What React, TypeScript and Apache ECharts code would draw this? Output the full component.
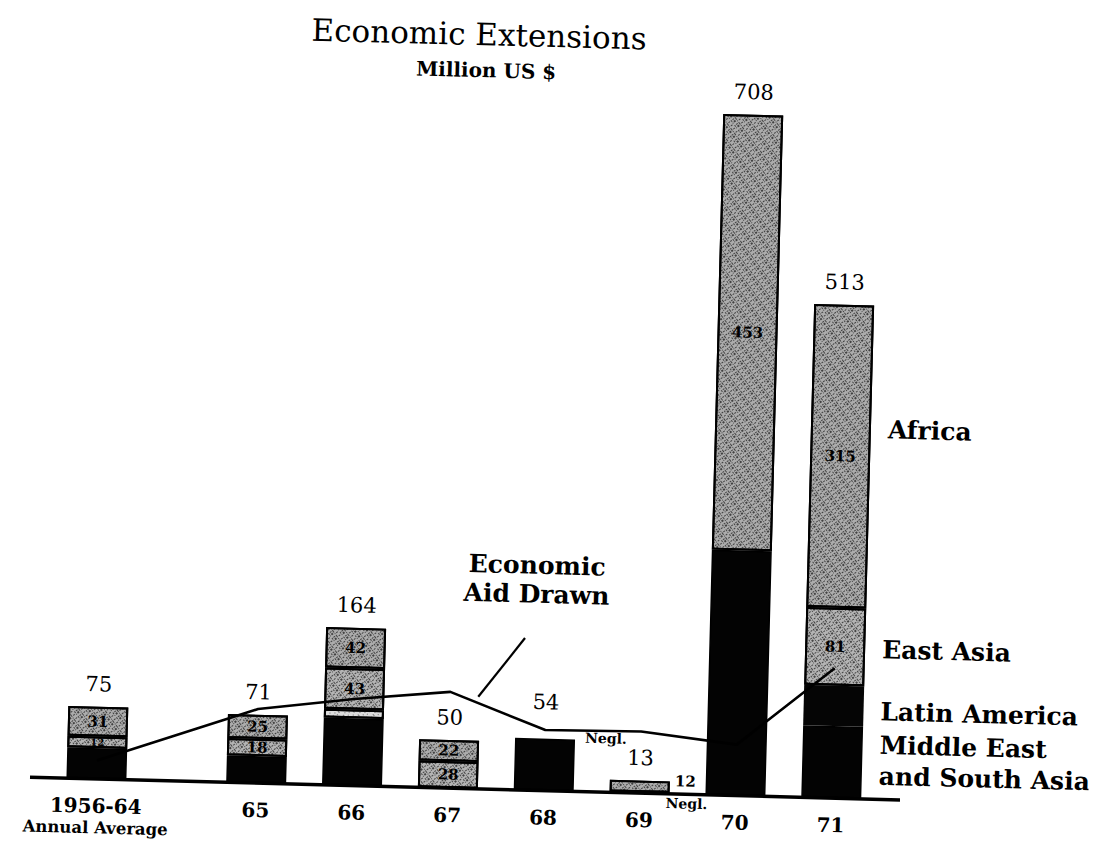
import React, { useEffect, useRef } from "react";
import * as echarts from "echarts";

// ---------- data ----------
const categories = ["1956-64", "65", "66", "67", "68", "69", "70", "71"];
const firstCategoryNote = "Annual Average";
const totals = [75, 71, 164, 50, 54, 13, 708, 513];
const africa = [31, 25, 42, 22, 0, 12, 453, 315];
const eastAsia = [12, 18, 43, 28, 0, 0, 0, 81];
const unlabeledStrip = [0, 0, 9, 0, 0, 0, 0, 0];
const latinAmerica = [0, 0, 0, 0, 0, 0, 0, 42];
const middleEastSouthAsia = [32, 28, 70, 0, 54, 1, 255, 75];
const aidDrawn = [19, 77, 90, 100, 63, 64, 53, 135];
const negligibleNotes = ["", "", "", "", "Negl.", "Negl.", "", ""];
const regionLabels = ["Africa", "East Asia", "Latin America", "Middle East\nand South Asia"];
const titleText = "Economic Extensions";
const subtitleText = "Million US $";
const aidLabel = "Economic\nAid Drawn";

// ---------- layout ----------
const FONT = "'DejaVu Serif', 'Liberation Serif', serif";
const LEAD = 1;
const FIRST_GAP = 5;
const GAP = 3;
const TRAIL = 1;
const slotOf = (i: number) => LEAD + (i === 0 ? 0 : FIRST_GAP + (i - 1) * GAP);
const nSlots = slotOf(categories.length - 1) + 1 + TRAIL;
const slotNames = Array.from({ length: nSlots }, (_, s) => {
  const i = categories.findIndex((_, k) => slotOf(k) === s);
  return i >= 0 ? categories[i] : `gap${s}`;
});
const toSlots = (arr: any[]) => {
  const out: any[] = Array(nSlots).fill(null);
  arr.forEach((v, i) => {
    out[slotOf(i)] = v === 0 ? null : v;
  });
  return out;
};

const BASE_Y = 790.6;
const PX_PER_UNIT = 0.962;
const Y_MAX = 800;
const CH_H = 880;
const GRID_LEFT = 58;
const SLOT_W = 31.96;
const BAR_W = 60;

const stipple = {
  symbol: "rect",
  symbolSize: 1,
  color: "rgba(0,0,0,0.62)",
  dashArrayX: [[2, 1, 1, 2], [1, 3], [3, 1, 1, 1], [1, 1, 2, 2]],
  dashArrayY: [1, 1, 2, 1],
  rotation: 0.9,
};
const lightStipple = {
  symbol: "rect",
  symbolSize: 1,
  color: "rgba(0,0,0,0.5)",
  dashArrayX: [[1, 3], [2, 4], [1, 2, 1, 4]],
  dashArrayY: [1, 2],
  rotation: 0.6,
};
const darkSpeck = {
  symbol: "circle",
  symbolSize: 0.7,
  color: "rgba(255,255,255,0.45)",
  dashArrayX: [[1, 7], [1, 11]],
  dashArrayY: [2, 6],
  rotation: 0.7,
};

const innerLabel = {
  show: true,
  position: "inside",
  fontFamily: FONT,
  fontWeight: "bold",
  fontSize: 15,
  color: "#000",
  formatter: (p: any) => (p.value == null ? "" : String(p.value)),
};

function buildOption() {
  const africaData = toSlots(africa).map((v, s) => {
    if (v == null) return v;
    if (s === slotOf(5)) {
      return { value: v, label: { position: "right", distance: 5, offset: [0, -6], fontSize: 15 } };
    }
    return v;
  });
  const eastAsiaData = toSlots(eastAsia).map((v, s) => {
    if (v == null) return v;
    if (s === slotOf(0)) return { value: v, label: { fontSize: 10 } };
    return v;
  });
  const noteLayout: Record<number, any> = {
    4: { position: ["100%", 0], offset: [10, -2] },
    5: { position: ["100%", "100%"], offset: [-4, 9] },
  };
  const mesaData = toSlots(middleEastSouthAsia).map((v, s) => {
    if (v == null) return v;
    const i = categories.findIndex((_, k) => slotOf(k) === s);
    if (i >= 0 && negligibleNotes[i]) {
      return {
        value: v,
        label: {
          show: true,
          formatter: negligibleNotes[i],
          align: "left",
          verticalAlign: "middle",
          fontFamily: FONT,
          fontWeight: "bold",
          fontSize: 14,
          color: "#000",
          ...noteLayout[i],
        },
      };
    }
    return v;
  });
  const totalData = toSlots(totals).map((v, s) =>
    v != null && s === slotOf(4) ? { value: v, label: { distance: 26 } } : v
  );

  const common = {
    type: "bar",
    stack: "regions",
    barWidth: BAR_W,
    barGap: "-100%",
    z: 2,
    emphasis: { disabled: true },
  };

  const gridTop = BASE_Y - Y_MAX * PX_PER_UNIT;

  const regionYs = [421, 641, 703, 752];
  const graphics: any[] = [
    {
      type: "line",
      shape: { x1: 39.5, y1: BASE_Y, x2: 909.8, y2: BASE_Y },
      style: { stroke: "#000", lineWidth: 3.5 },
      z: 20,
    },
    {
      type: "text",
      x: 469,
      y: 36,
      style: { text: titleText, fontFamily: FONT, fontSize: 31, fill: "#000", align: "center", verticalAlign: "middle" },
    },
    {
      type: "text",
      x: 477,
      y: 72,
      style: { text: subtitleText, fontFamily: FONT, fontSize: 20, fontWeight: "bold", fill: "#000", align: "center", verticalAlign: "middle" },
    },
    {
      type: "text",
      x: 541,
      y: 580,
      style: { text: aidLabel, fontFamily: FONT, fontSize: 25, fontWeight: "bold", lineHeight: 29, fill: "#000", align: "center", verticalAlign: "middle" },
    },
    {
      type: "line",
      shape: { x1: 530.7, y1: 638.6, x2: 485.5, y2: 698.5 },
      style: { stroke: "#000", lineWidth: 2.2 },
    },
    ...regionLabels.map((t, k) => ({
      type: "text",
      x: 888,
      y: regionYs[k],
      style: { text: t, fontFamily: FONT, fontSize: 25, fontWeight: "bold", lineHeight: 31, fill: "#000", align: "left", verticalAlign: "middle" },
    })),
  ];

  return {
    animation: false,
    backgroundColor: "#fff",
    grid: {
      left: GRID_LEFT,
      width: nSlots * SLOT_W,
      top: gridTop,
      bottom: CH_H - BASE_Y,
      containLabel: false,
    },
    xAxis: {
      type: "category",
      data: slotNames,
      axisLine: { show: false },
      axisTick: { show: false },
      splitLine: { show: false },
      axisLabel: {
        interval: 0,
        margin: 15,
        formatter: (v: string) => {
          if (!categories.includes(v)) return "";
          if (v === categories[0]) return `{yr|${v}}\n{sub|${firstCategoryNote}}`;
          return `{yr|${v}}`;
        },
        rich: {
          yr: { fontFamily: FONT, fontSize: 20, fontWeight: "bold", lineHeight: 24, color: "#000" },
          sub: { fontFamily: FONT, fontSize: 16.5, fontWeight: "bold", lineHeight: 20, color: "#000" },
        },
      },
    },
    yAxis: { type: "value", min: 0, max: Y_MAX, show: false, splitLine: { show: false } },
    series: [
      {
        ...common,
        name: "Middle East and South Asia",
        data: mesaData,
        itemStyle: { color: "#030303", borderColor: "#000", borderWidth: 1.5 },
        label: { show: false },
      },
      {
        ...common,
        name: "Latin America",
        data: toSlots(latinAmerica),
        itemStyle: { color: "#050505", borderColor: "#000", borderWidth: 0, decal: darkSpeck },
        label: { show: false },
      },
      {
        ...common,
        name: "Unlabeled",
        data: toSlots(unlabeledStrip),
        itemStyle: { color: "#dcdcdc", borderColor: "#000", borderWidth: 2, decal: lightStipple },
        label: { show: false },
      },
      {
        ...common,
        name: "East Asia",
        data: eastAsiaData,
        itemStyle: { color: "#b4b4b4", borderColor: "#000", borderWidth: 2, decal: stipple },
        label: innerLabel,
      },
      {
        ...common,
        name: "Africa",
        data: africaData,
        itemStyle: { color: "#acacac", borderColor: "#000", borderWidth: 2, decal: stipple },
        label: innerLabel,
      },
      {
        type: "bar",
        name: "Total",
        data: totalData,
        barWidth: BAR_W,
        barGap: "-100%",
        z: 1,
        silent: true,
        itemStyle: { color: "rgba(0,0,0,0)" },
        label: {
          show: true,
          position: "top",
          distance: 12,
          fontFamily: FONT,
          fontSize: 21,
          color: "#000",
        },
      },
      {
        type: "line",
        name: "Economic Aid Drawn",
        data: toSlots(aidDrawn),
        connectNulls: true,
        symbol: "none",
        z: 5,
        lineStyle: { color: "#000", width: 2.6 },
        emphasis: { disabled: true },
      },
    ],
    graphic: graphics,
  };
}

export default function App() {
  const ref = useRef<HTMLDivElement>(null);
  useEffect(() => {
    document.body.style.margin = "0";
    document.body.style.overflow = "hidden";
    const chart = echarts.init(ref.current as HTMLDivElement, null, { renderer: "svg" });
    chart.setOption(buildOption() as any);
    return () => chart.dispose();
  }, []);
  return (
    <div style={{ position: "fixed", left: 0, top: 0, width: 1098, height: 842, overflow: "hidden", background: "#fff" }}>
      <div
        ref={ref}
        style={{
          position: "absolute",
          left: 0,
          top: 0,
          width: 1098,
          height: CH_H,
          transform: "rotate(1.5deg)",
          transformOrigin: "549px 421px",
        }}
      />
    </div>
  );
}
